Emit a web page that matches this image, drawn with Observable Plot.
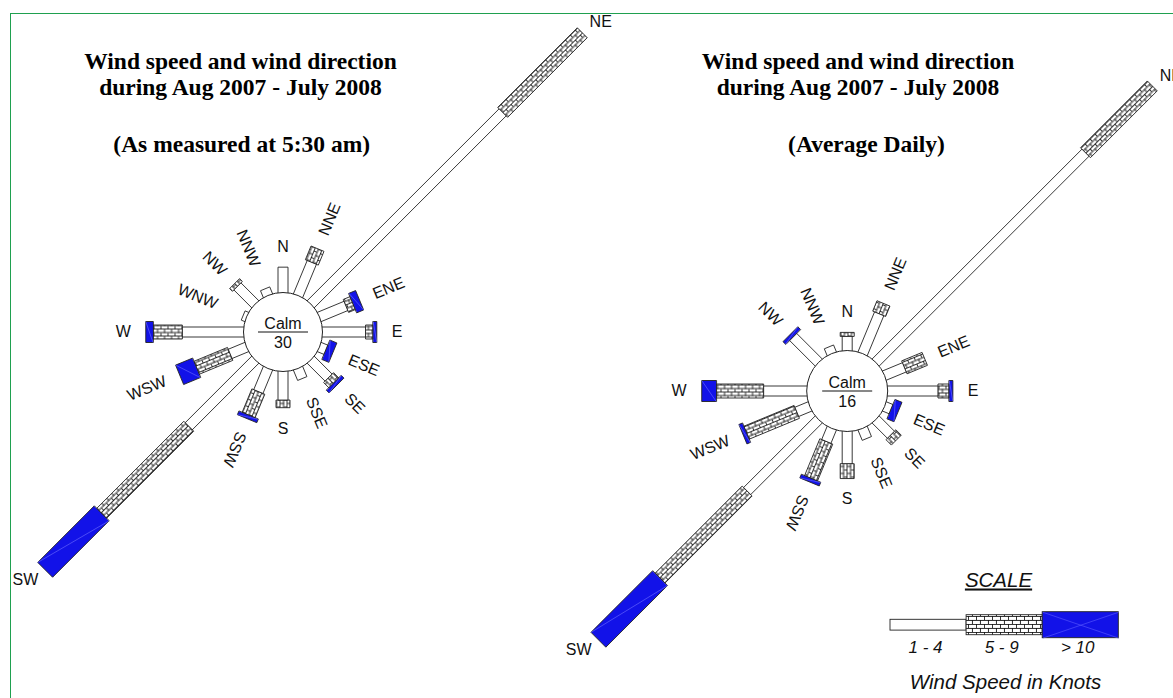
<!DOCTYPE html>
<html>
<head>
<meta charset="utf-8">
<script src="https://cdn.jsdelivr.net/npm/d3@7"></script>
<script src="https://cdn.jsdelivr.net/npm/@observablehq/plot@0.6"></script>
<style>
  body { margin: 0; background: #fff; }
  #wrap { position: relative; width: 1173px; height: 698px; overflow: hidden; font-family: "Liberation Sans", Arial, sans-serif; }
  #border { position: absolute; left: 9.5px; top: 12.5px; width: 1200px; height: 720px; border-left: 1.5px solid #1fa04f; border-top: 1.5px solid #1fa04f; }
  .title { position: absolute; font-family: "Liberation Serif", "Times New Roman", serif; font-weight: bold; font-size: 23.5px; line-height: 1; white-space: nowrap; transform: translateX(-50%); color: #000; }
  #chart, #legend { position: absolute; left: 0; top: 0; }
  #legend { left: 880px; top: 560px; }
</style>
</head>
<body>
<div id="wrap">
  <div id="border"></div>
  <div id="chart"></div>
  <div id="legend"></div>
</div>
<script>
// ---------------- DATA (days per direction) ----------------
const directions = ["N","NNE","NE","ENE","E","ESE","SE","SSE","S","SSW","SW","WSW","W","WNW","NW","NNW"];
// Left rose: as measured at 5:30 am
const am_1to4   = [7, 10, 75, 8, 12, 2, 7, 3, 8, 7, 26, 5, 17, 1, 7, 2];
const am_5to9   = [0,  4, 31, 2,  2, 0, 2, 0, 2, 7, 34, 10, 8, 0, 1, 0];
const am_over10 = [0,  0,  0, 2,  1, 2, 1, 0, 0, 1, 22, 5, 2, 0, 0, 0];
const am_calm = 30;
// Right rose: average daily
const avg_1to4   = [4, 12, 82, 6, 14, 2, 6, 3, 9, 4, 28, 4, 12, 0, 10, 2];
const avg_5to9   = [1,  3, 26, 6,  3, 0, 2, 0, 4, 11, 34, 15, 13, 0, 0, 0];
const avg_over10 = [0,  0,  0, 0,  1, 2, 0, 0, 0, 1, 24, 1, 4, 0, 1, 0];
const avg_calm = 16;
const speedClasses = ["1 - 4", "5 - 9", "> 10"];
const titleLine1 = "Wind speed and wind direction";
const titleLine2 = "during Aug 2007 - July 2008";
const subtitles = ["(As measured at 5:30 am)", "(Average Daily)"];
const legendTitle = "SCALE";
const legendCaption = "Wind Speed in Knots";

// ---------------- LAYOUT ----------------
const W = 1173, H = 698;
const K = 3.62;                 // pixels per day
const halfWidth = [5, 7, 10.5]; // half bar widths per speed class
const BLUE = "#1212e8";
const INK = "#222";
const TXT = "#111";
const roses = [
  {cx: 282.5, cy: 331.5, r0: 39.5, calm: am_calm, series: [am_1to4, am_5to9, am_over10], tx: 240.5, sx: 241.7, sub: subtitles[0]},
  {cx: 846.7, cy: 390.5, r0: 40.5, calm: avg_calm, series: [avg_1to4, avg_5to9, avg_over10], tx: 858, sx: 866.5, sub: subtitles[1]}
];

// titles (HTML text)
const wrap = document.getElementById("wrap");
roses.forEach(r => {
  [[titleLine1, r.tx, 49.5], [titleLine2, r.tx, 76], [r.sub, r.sx, 133.3]].forEach(([t, x, y]) => {
    const d = document.createElement("div");
    d.className = "title";
    d.textContent = t;
    d.style.left = x + "px";
    d.style.top = y + "px";
    wrap.appendChild(d);
  });
});

// segments
const segments = [];
roses.forEach((rose, ri) => directions.forEach((dir, i) => {
  let cum = 0;
  rose.series.forEach((vals, c) => {
    const v = vals[i];
    if (v > 0) segments.push({rose, ri, dir, i, theta: i * 22.5, c, from: cum, to: cum + v});
    cum += v;
  });
}));

function corners(s) {
  const t = s.theta * Math.PI / 180;
  const ux = Math.sin(t), uy = -Math.cos(t), px = Math.cos(t), py = Math.sin(t);
  const a = s.rose.r0 + s.from * K - (s.from === 0 ? 3 : 0);
  const b = s.rose.r0 + s.to * K;
  const h = halfWidth[s.c];
  const {cx, cy} = s.rose;
  return [[a, -h], [b, -h], [b, h], [a, h]].map(([r, w]) => ({x: cx + r * ux + w * px, y: cy + r * uy + w * py}));
}

const points = segments.flatMap((s, k) => corners(s).map(p => ({
  ...p, id: k, c: s.c,
  fill: s.c === 0 ? "#ffffff" : s.c === 1 ? `url(#brick${s.i})` : BLUE
})));

const blueDiag = segments.filter(s => s.c === 2).map(s => {
  const q = corners(s);
  return {x1: q[0].x, y1: q[0].y, x2: q[2].x, y2: q[2].y};
});

// direction labels
const charW = {N: 0.722, E: 0.667, S: 0.667, W: 0.944};
const FS = 16, GAP = 15, CAP = 0.716 * FS;
const labels = [];
roses.forEach(rose => directions.forEach((dir, i) => {
  const total = rose.series.reduce((acc, vals) => acc + vals[i], 0);
  if (total <= 0) return;
  const theta = i * 22.5, t = theta * Math.PI / 180;
  const s = Math.sin(t), c = Math.cos(t);
  const end = rose.r0 + total * K;
  const base = Math.max(end, rose.r0 + 17);
  const tw = [...dir].reduce((a, ch) => a + charW[ch], 0) * FS;
  const horiz = dir.length === 1 || end > 200;
  let x, y;
  if (horiz) {
    x = rose.cx + base * s + s * (GAP + tw / 2);
    y = rose.cy - base * c - c * Math.abs(c) * (GAP + CAP / 2);
  } else {
    const rr = base + GAP + tw / 2;
    x = rose.cx + rr * s; y = rose.cy - rr * c;
  }
  labels.push({dir, x, y, rot: horiz ? 0 : (theta < 225 ? theta - 90 : theta - 270)});
}));

const chart = Plot.plot({
  width: W, height: H, margin: 0,
  x: {domain: [0, W], range: [0, W], axis: null},
  y: {domain: [0, H], range: [0, H], axis: null},
  color: {type: "identity"},
  r: {type: "identity"},
  style: {background: "transparent", fontFamily: "'Liberation Sans', Arial, sans-serif", overflow: "visible"},
  marks: [
    [0, 1, 2].map(c => Plot.line(points.filter(p => p.c === c), {
      x: "x", y: "y", z: "id", fill: "fill", stroke: INK, strokeWidth: 0.9,
      curve: "linear-closed", strokeLinejoin: "miter"
    })),
    Plot.link(blueDiag, {x1: "x1", y1: "y1", x2: "x2", y2: "y2", stroke: "#6f6fff", strokeWidth: 0.6}),
    Plot.dot(roses, {x: "cx", y: "cy", r: "r0", fill: "#fff", stroke: INK, strokeWidth: 1}),
    Plot.link(roses, {x1: d => d.cx - 25, x2: d => d.cx + 25, y1: "cy", y2: "cy", stroke: TXT, strokeWidth: 1}),
    Plot.text(roses, {x: "cx", y: "cy", text: () => "Calm", lineAnchor: "bottom", dy: -3.5, fontSize: 16, fill: TXT}),
    Plot.text(roses, {x: "cx", y: "cy", text: d => String(d.calm), lineAnchor: "bottom", dy: 15.5, fontSize: 16, fill: TXT}),
    Plot.text(labels, {x: "x", y: "y", text: "dir", rotate: "rot", fontSize: FS, fill: TXT, textAnchor: "middle", lineAnchor: "middle"})
  ]
});
const svgEl = chart.tagName.toLowerCase() === "svg" ? chart : chart.querySelector("svg");
const defs = d3.select(svgEl).insert("defs", ":first-child");
directions.forEach((d, i) => {
  const p = defs.append("pattern").attr("id", `brick${i}`).attr("patternUnits", "userSpaceOnUse")
    .attr("width", 7).attr("height", 7).attr("patternTransform", `rotate(${i * 22.5 - 90})`);
  p.append("rect").attr("width", 7).attr("height", 7).attr("fill", "#fff");
  p.append("path").attr("d", "M0,0.45H7M0,3.95H7M0.45,0V3.5M3.95,3.5V7").attr("stroke", "#111").attr("stroke-width", 0.9).attr("fill", "none");
});
document.getElementById("chart").appendChild(chart);

// ---------------- LEGEND ----------------
const legendHalf = [5.4, 10, 13];
const legendFill = ["#ffffff", "url(#brickLegend)", BLUE];
const legendData = speedClasses.map((label, i) => ({label, i}));
const blueIdx = legendData.filter(d => d.i === 2);
const legend = Plot.plot({
  width: 260, height: 138, margin: 0,
  x: {domain: [0, 3], range: [10, 238.3], axis: null},
  y: {domain: [-13, 13], range: [51.7, 77.7], axis: null},
  color: {type: "identity"},
  style: {background: "transparent", fontFamily: "'Liberation Sans', Arial, sans-serif", overflow: "visible"},
  marks: [
    Plot.rect(legendData, {x1: "i", x2: d => d.i + 1, y1: d => -legendHalf[d.i], y2: d => legendHalf[d.i], fill: d => legendFill[d.i], stroke: INK, strokeWidth: 0.9}),
    Plot.link(blueIdx, {x1: "i", x2: d => d.i + 1, y1: d => -legendHalf[d.i], y2: d => legendHalf[d.i], stroke: "#5c5cff", strokeWidth: 0.6}),
    Plot.link(blueIdx, {x1: "i", x2: d => d.i + 1, y1: d => legendHalf[d.i], y2: d => -legendHalf[d.i], stroke: "#5c5cff", strokeWidth: 0.6}),
    Plot.text(legendData, {x: d => d.i + 0.5, y: () => 13, text: "label", lineAnchor: "bottom", dy: 15, dx: -3, fontSize: 17, fontStyle: "italic", fill: TXT}),
    Plot.text([legendTitle], {frameAnchor: "top", text: d => d, lineAnchor: "bottom", dx: -12, dy: 26, fontSize: 20.5, fontStyle: "italic", fill: TXT}),
    Plot.text([legendCaption], {frameAnchor: "bottom", text: d => d, lineAnchor: "bottom", dx: -5, dy: -10, fontSize: 20.5, fontStyle: "italic", fill: TXT})
  ]
});
const legSvg = legend.tagName.toLowerCase() === "svg" ? legend : legend.querySelector("svg");
const ldefs = d3.select(legSvg).insert("defs", ":first-child");
const lp = ldefs.append("pattern").attr("id", "brickLegend").attr("patternUnits", "userSpaceOnUse").attr("width", 8).attr("height", 8);
lp.append("rect").attr("width", 8).attr("height", 8).attr("fill", "#fff");
lp.append("path").attr("d", "M0,0.45H8M0,4.45H8M0.45,0V4M4.45,4V8").attr("stroke", "#111").attr("stroke-width", 0.9).attr("fill", "none");
d3.select(legSvg).selectAll("text").filter(function () { return this.textContent === legendTitle; }).style("text-decoration", "underline");
document.getElementById("legend").appendChild(legend);
</script>
</body>
</html>
